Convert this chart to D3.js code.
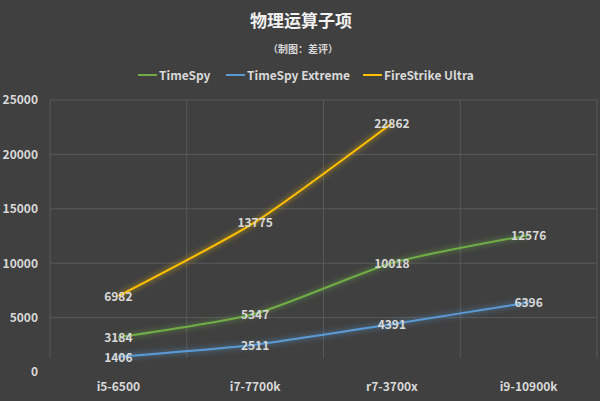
<!DOCTYPE html>
<html><head><meta charset="utf-8">
<script src="https://cdn.jsdelivr.net/npm/d3@7"></script>
<style>body{margin:0;background:#404040;}svg{display:block;font-family:"Noto Sans CJK SC","Noto Sans",sans-serif;}</style>
</head><body>
<svg id="c" width="600" height="401"></svg>
<script>
const categories = ["i5-6500","i7-7700k","r7-3700x","i9-10900k"];
const timeSpy = [3184,5347,10018,12576];
const timeSpyExtreme = [1406,2511,4391,6396];
const fireStrikeUltra = [6982,13775,22862,null];
const yTicks = [0,5000,10000,15000,20000,25000];
const seriesNames = ["TimeSpy","TimeSpy Extreme","FireStrike Ultra"];
const seriesColors = ["#70ad47","#5b9bd5","#ffc000"];
const series = [timeSpy,timeSpyExtreme,fireStrikeUltra];

const svg = d3.select("#c");
svg.append("rect").attr("width",600).attr("height",401).attr("fill","#404040");
const pL=50,pR=597,pT=100,pB=372;
const x = d3.scaleBand().domain(categories).range([pL,pR]);
const y = d3.scaleLinear().domain([0,25000]).range([pB,pT]);

const defs = svg.append("defs");
seriesColors.forEach((c,i)=>{
  const f = defs.append("filter").attr("id","g"+i).attr("x","-20%").attr("y","-50%").attr("width","140%").attr("height","200%");
  f.append("feGaussianBlur").attr("in","SourceGraphic").attr("stdDeviation",2.5);
});

// title
svg.append("text").attr("x",301).attr("y",27).attr("text-anchor","middle").attr("fill","#f2f2f2")
  .attr("font-size",17).attr("font-weight","bold").text("物理运算子项");
svg.append("text").attr("x",303).attr("y",53).attr("text-anchor","middle").attr("fill","#d9d9d9")
  .attr("font-size",10).attr("font-weight","bold").text("（制图：差评）");

// legend
const legX=[138,226,363];
seriesNames.forEach((n,i)=>{
  svg.append("line").attr("x1",legX[i]).attr("x2",legX[i]+19).attr("y1",75).attr("y2",75)
    .attr("stroke",seriesColors[i]).attr("stroke-width",2);
  svg.append("text").attr("x",legX[i]+21).attr("y",79.5).attr("fill","#d9d9d9").attr("font-size",12)
    .attr("font-weight","bold").text(n);
});

// grid
const g = svg.append("g");
g.selectAll(".h").data(yTicks.filter(t=>t>0)).join("line")
  .attr("x1",pL).attr("x2",pR).attr("y1",d=>y(d)).attr("y2",d=>y(d))
  .attr("stroke","#595959").attr("stroke-width",1);
const vx = categories.map(c=>x(c)).concat([pR]);
g.selectAll(".v").data(vx).join("line")
  .attr("x1",d=>d).attr("x2",d=>d).attr("y1",pT).attr("y2",pB-14)
  .attr("stroke","#595959").attr("stroke-width",1);

// axes
const yAxis = d3.axisLeft(y).tickValues(yTicks).tickFormat(d3.format("d")).tickSize(0).tickPadding(12);
const ya = svg.append("g").attr("transform",`translate(${pL},0)`).call(yAxis);
ya.select(".domain").remove();
ya.selectAll("text").attr("fill","#d9d9d9").attr("font-size",12).attr("font-weight","bold")
  .attr("font-family","'Noto Sans CJK SC','Noto Sans',sans-serif");
const xAxis = d3.axisBottom(x).tickSize(0).tickPadding(10);
const xa = svg.append("g").attr("transform",`translate(0,${pB})`).call(xAxis);
xa.select(".domain").remove();
xa.selectAll("text").attr("fill","#d9d9d9").attr("font-size",12).attr("font-weight","bold")
  .attr("font-family","'Noto Sans CJK SC','Noto Sans',sans-serif");

const cx = c=>x(c)+x.bandwidth()/2;
const line = d3.line().defined(d=>d.v!=null).x(d=>cx(d.c)).y(d=>y(d.v)).curve(d3.curveCardinal.tension(0.4));

series.forEach((s,i)=>{
  const data = categories.map((c,j)=>({c,v:s[j]}));
  svg.append("path").attr("d",line(data)).attr("fill","none").attr("stroke",seriesColors[i])
    .attr("stroke-width",5).attr("stroke-opacity",0.35).attr("filter",`url(#g${i})`);
  svg.append("path").attr("d",line(data)).attr("fill","none").attr("stroke",seriesColors[i])
    .attr("stroke-width",2);
});
series.forEach((s,i)=>{
  const data = categories.map((c,j)=>({c,v:s[j]})).filter(d=>d.v!=null);
  svg.append("g").selectAll("text").data(data).join("text")
    .attr("x",d=>cx(d.c)).attr("y",d=>y(d.v)+5).attr("text-anchor","middle")
    .attr("fill","#d9d9d9").attr("font-size",12).attr("font-weight","bold").text(d=>d.v);
});
</script>
</body></html>
